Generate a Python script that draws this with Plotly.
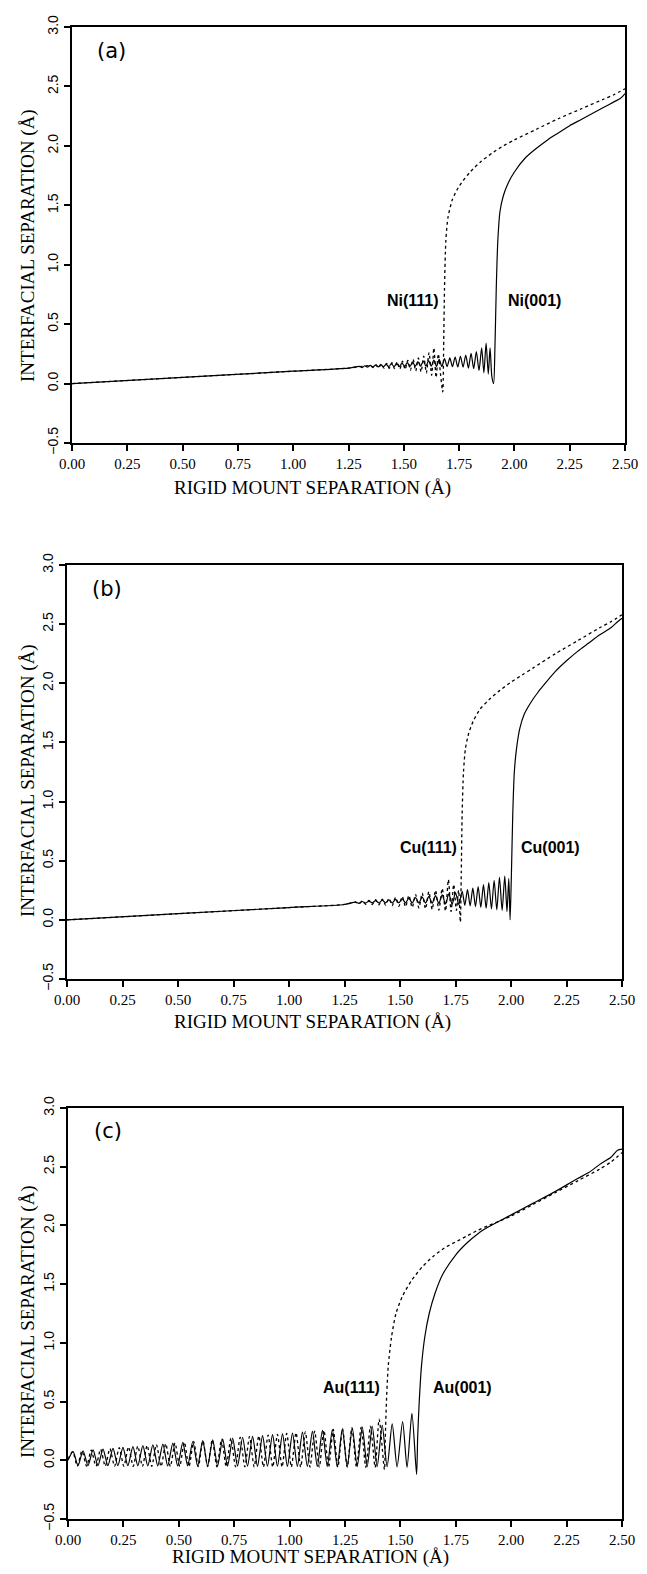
import plotly.graph_objects as go

# axis ticks
x_ticks = [0.0, 0.25, 0.5, 0.75, 1.0, 1.25, 1.5, 1.75, 2.0, 2.25, 2.5]
y_ticks = [-0.5, 0.0, 0.5, 1.0, 1.5, 2.0, 2.5, 3.0]

# (a) Ni, solid = (001), dotted = (111)
ni001_x = [0.000, 0.500, 1.000, 1.250, 1.300, 1.312, 1.324, 1.336, 1.348, 1.360,
           1.372, 1.384, 1.396, 1.408, 1.420, 1.432, 1.444, 1.456, 1.468, 1.480,
           1.492, 1.504, 1.516, 1.528, 1.540, 1.552, 1.564, 1.576, 1.588, 1.600,
           1.612, 1.624, 1.636, 1.648, 1.660, 1.672, 1.684, 1.696, 1.708, 1.720,
           1.732, 1.744, 1.756, 1.768, 1.780, 1.792, 1.804, 1.816, 1.828, 1.840,
           1.852, 1.862, 1.872, 1.882, 1.890, 1.898, 1.906, 1.912, 1.918, 1.925,
           1.935, 1.950, 1.970, 2.000, 2.050, 2.100, 2.150, 2.200, 2.250, 2.300,
           2.350, 2.400, 2.450, 2.480, 2.500]
ni001_y = [0.000, 0.052, 0.104, 0.130, 0.145, 0.135, 0.150, 0.138, 0.153, 0.139,
           0.156, 0.140, 0.159, 0.141, 0.162, 0.142, 0.166, 0.142, 0.170, 0.143,
           0.173, 0.144, 0.177, 0.145, 0.181, 0.146, 0.185, 0.146, 0.190, 0.146,
           0.194, 0.146, 0.198, 0.145, 0.203, 0.144, 0.210, 0.143, 0.216, 0.142,
           0.222, 0.140, 0.230, 0.138, 0.240, 0.130, 0.255, 0.125, 0.270, 0.110,
           0.300, 0.090, 0.340, 0.080, 0.300, 0.060, 0.000, 0.300, 0.800, 1.200,
           1.450, 1.580, 1.680, 1.780, 1.900, 1.980, 2.050, 2.110, 2.170, 2.220,
           2.270, 2.320, 2.370, 2.400, 2.440]
ni111_x = [0.000, 0.500, 1.000, 1.250, 1.350, 1.362, 1.374, 1.386, 1.398, 1.410,
           1.422, 1.434, 1.446, 1.458, 1.470, 1.482, 1.494, 1.506, 1.518, 1.530,
           1.542, 1.554, 1.566, 1.578, 1.590, 1.602, 1.614, 1.626, 1.636, 1.646,
           1.656, 1.666, 1.676, 1.680, 1.684, 1.690, 1.700, 1.720, 1.750, 1.800,
           1.850, 1.900, 1.950, 2.000, 2.100, 2.200, 2.300, 2.400, 2.450, 2.500]
ni111_y = [0.000, 0.052, 0.104, 0.130, 0.150, 0.135, 0.160, 0.132, 0.165, 0.130,
           0.170, 0.128, 0.175, 0.125, 0.182, 0.122, 0.188, 0.118, 0.195, 0.112,
           0.205, 0.105, 0.215, 0.098, 0.230, 0.090, 0.260, 0.070, 0.300, 0.050,
           0.250, 0.080, -0.070, 0.300, 0.800, 1.200, 1.400, 1.550, 1.660, 1.780,
           1.870, 1.940, 2.000, 2.050, 2.140, 2.230, 2.310, 2.390, 2.430, 2.480]

# (b) Cu
cu001_x = [0.000, 0.500, 1.000, 1.250, 1.300, 1.315, 1.330, 1.345, 1.360, 1.375,
           1.390, 1.405, 1.420, 1.435, 1.450, 1.465, 1.480, 1.495, 1.510, 1.525,
           1.540, 1.555, 1.570, 1.585, 1.600, 1.615, 1.630, 1.645, 1.660, 1.675,
           1.690, 1.705, 1.720, 1.735, 1.750, 1.765, 1.780, 1.792, 1.804, 1.816,
           1.828, 1.840, 1.852, 1.864, 1.876, 1.888, 1.900, 1.912, 1.924, 1.936,
           1.948, 1.960, 1.972, 1.982, 1.990, 1.996, 2.002, 2.008, 2.015, 2.025,
           2.040, 2.060, 2.090, 2.120, 2.150, 2.200, 2.250, 2.300, 2.350, 2.400,
           2.450, 2.480, 2.500]
cu001_y = [0.000, 0.052, 0.104, 0.130, 0.150, 0.140, 0.155, 0.142, 0.158, 0.143,
           0.162, 0.143, 0.166, 0.144, 0.170, 0.144, 0.174, 0.144, 0.178, 0.143,
           0.183, 0.143, 0.188, 0.142, 0.193, 0.141, 0.198, 0.140, 0.205, 0.138,
           0.212, 0.135, 0.220, 0.132, 0.230, 0.128, 0.242, 0.123, 0.255, 0.118,
           0.268, 0.112, 0.282, 0.105, 0.298, 0.098, 0.315, 0.092, 0.335, 0.085,
           0.360, 0.080, 0.370, 0.070, 0.350, 0.000, 0.400, 0.900, 1.250, 1.450,
           1.620, 1.740, 1.840, 1.920, 1.990, 2.100, 2.190, 2.270, 2.340, 2.410,
           2.470, 2.520, 2.550]
cu111_x = [0.000, 0.500, 1.000, 1.250, 1.300, 1.315, 1.330, 1.345, 1.360, 1.375,
           1.390, 1.405, 1.420, 1.435, 1.450, 1.465, 1.480, 1.495, 1.510, 1.525,
           1.540, 1.555, 1.570, 1.585, 1.600, 1.615, 1.630, 1.645, 1.660, 1.675,
           1.690, 1.705, 1.718, 1.730, 1.742, 1.754, 1.764, 1.772, 1.776, 1.780,
           1.786, 1.795, 1.810, 1.830, 1.860, 1.900, 1.950, 2.000, 2.050, 2.100,
           2.200, 2.300, 2.400, 2.450, 2.500]
cu111_y = [0.000, 0.052, 0.104, 0.130, 0.150, 0.135, 0.160, 0.132, 0.165, 0.130,
           0.170, 0.127, 0.176, 0.124, 0.182, 0.120, 0.190, 0.115, 0.198, 0.110,
           0.207, 0.105, 0.216, 0.100, 0.226, 0.094, 0.238, 0.088, 0.250, 0.082,
           0.265, 0.075, 0.340, 0.070, 0.300, 0.080, 0.250, -0.020, 0.400, 0.900,
           1.250, 1.450, 1.580, 1.680, 1.780, 1.860, 1.940, 2.010, 2.070, 2.130,
           2.250, 2.360, 2.470, 2.520, 2.580]

# (c) Au
au001_x = [0.000, 0.023, 0.045, 0.068, 0.090, 0.113, 0.135, 0.158, 0.180, 0.203,
           0.225, 0.248, 0.270, 0.293, 0.315, 0.338, 0.360, 0.383, 0.405, 0.428,
           0.450, 0.473, 0.495, 0.518, 0.540, 0.563, 0.585, 0.608, 0.630, 0.653,
           0.675, 0.698, 0.720, 0.743, 0.765, 0.788, 0.810, 0.833, 0.855, 0.878,
           0.900, 0.923, 0.945, 0.968, 0.990, 1.013, 1.035, 1.058, 1.080, 1.103,
           1.125, 1.148, 1.170, 1.193, 1.215, 1.238, 1.260, 1.283, 1.305, 1.328,
           1.350, 1.373, 1.395, 1.418, 1.440, 1.463, 1.485, 1.510, 1.530, 1.552,
           1.573, 1.578, 1.585, 1.595, 1.610, 1.630, 1.656, 1.690, 1.750, 1.800,
           1.850, 1.900, 1.950, 2.000, 2.100, 2.200, 2.300, 2.350, 2.400, 2.450,
           2.480, 2.500]
au001_y = [0.000, 0.074, -0.045, 0.081, -0.045, 0.088, -0.045, 0.095, -0.046, 0.102,
           -0.046, 0.110, -0.046, 0.117, -0.047, 0.124, -0.047, 0.131, -0.047, 0.138,
           -0.048, 0.146, -0.048, 0.153, -0.048, 0.160, -0.049, 0.167, -0.049, 0.174,
           -0.049, 0.182, -0.050, 0.189, -0.050, 0.196, -0.050, 0.203, -0.051, 0.210,
           -0.051, 0.218, -0.051, 0.225, -0.052, 0.232, -0.052, 0.239, -0.052, 0.246,
           -0.053, 0.254, -0.053, 0.261, -0.053, 0.268, -0.054, 0.275, -0.054, 0.282,
           -0.054, 0.290, -0.055, 0.297, -0.055, 0.310, -0.056, 0.330, -0.060, 0.400,
           -0.120, 0.200, 0.500, 0.800, 1.050, 1.250, 1.420, 1.580, 1.750, 1.850,
           1.930, 1.990, 2.040, 2.090, 2.190, 2.290, 2.400, 2.450, 2.520, 2.580,
           2.640, 2.650]
au111_x = [0.000, 0.021, 0.042, 0.063, 0.084, 0.105, 0.126, 0.147, 0.168, 0.189,
           0.210, 0.231, 0.252, 0.273, 0.294, 0.315, 0.336, 0.357, 0.378, 0.399,
           0.420, 0.441, 0.462, 0.483, 0.504, 0.525, 0.546, 0.567, 0.588, 0.609,
           0.630, 0.651, 0.672, 0.693, 0.714, 0.735, 0.756, 0.777, 0.798, 0.819,
           0.840, 0.861, 0.882, 0.903, 0.924, 0.945, 0.966, 0.987, 1.008, 1.029,
           1.050, 1.071, 1.092, 1.113, 1.134, 1.155, 1.176, 1.197, 1.218, 1.239,
           1.260, 1.281, 1.302, 1.323, 1.344, 1.365, 1.386, 1.404, 1.428, 1.432,
           1.437, 1.445, 1.460, 1.480, 1.510, 1.550, 1.600, 1.650, 1.700, 1.750,
           1.800, 1.850, 1.900, 1.950, 2.000, 2.100, 2.200, 2.300, 2.400, 2.450,
           2.500]
au111_y = [0.010, 0.073, -0.050, 0.080, -0.050, 0.087, -0.050, 0.094, -0.051, 0.100,
           -0.051, 0.107, -0.051, 0.114, -0.052, 0.120, -0.052, 0.127, -0.052, 0.134,
           -0.053, 0.141, -0.053, 0.147, -0.053, 0.154, -0.054, 0.161, -0.054, 0.167,
           -0.054, 0.174, -0.055, 0.181, -0.055, 0.188, -0.055, 0.194, -0.056, 0.201,
           -0.056, 0.208, -0.056, 0.214, -0.057, 0.221, -0.057, 0.228, -0.057, 0.235,
           -0.058, 0.241, -0.058, 0.248, -0.058, 0.255, -0.059, 0.262, -0.059, 0.268,
           -0.059, 0.275, -0.060, 0.282, -0.060, 0.290, -0.060, 0.350, -0.080, 0.200,
           0.500, 0.800, 1.050, 1.250, 1.400, 1.530, 1.650, 1.740, 1.810, 1.860,
           1.910, 1.960, 2.000, 2.040, 2.080, 2.180, 2.280, 2.380, 2.480, 2.540,
           2.620]

W, H = 647, 1574

# pixel boxes of the three frames: (left, right, top, bottom)
boxes = [(72, 625, 27, 443), (67, 622, 565, 979), (68, 622, 1108, 1519)]
# axis title centres in pixels: (x title x, x title y, y title x, y title y)
title_pos = [(312, 488, 28, 246), (312, 1022, 28, 781), (310, 1557, 28, 1322)]

panels = [
    ("(a)", ni001_x, ni001_y, ni111_x, ni111_y,
     [("Ni(111)", 1.54, 0.70), ("Ni(001)", 2.09, 0.70)]),
    ("(b)", cu001_x, cu001_y, cu111_x, cu111_y,
     [("Cu(111)", 1.63, 0.61), ("Cu(001)", 2.18, 0.61)]),
    ("(c)", au001_x, au001_y, au111_x, au111_y,
     [("Au(111)", 1.28, 0.62), ("Au(001)", 1.78, 0.62)]),
]

fig = go.Figure()
annotations = []
layout_axes = {}
title_font = dict(family="Liberation Serif", size=19, color="black")

for i, (label, sx, sy, dx, dy, notes) in enumerate(panels):
    n = "" if i == 0 else str(i + 1)
    xa, ya = "x" + n, "y" + n
    l, r, t, b = boxes[i]

    fig.add_trace(go.Scatter(x=sx, y=sy, xaxis=xa, yaxis=ya, mode="lines",
                             line=dict(color="black", width=1.2, shape="spline", smoothing=0.7)))
    fig.add_trace(go.Scatter(x=dx, y=dy, xaxis=xa, yaxis=ya, mode="lines",
                             line=dict(color="black", width=1.3, dash="dot",
                                       shape="spline", smoothing=0.7)))

    layout_axes["xaxis" + n] = dict(
        domain=[l / W, r / W], anchor=ya, range=[0, 2.5],
        tickvals=x_ticks, ticktext=["%.2f" % v for v in x_ticks],
        ticks="outside", ticklen=6, tickwidth=1.5, tickcolor="black",
        showline=True, linewidth=2, linecolor="black", mirror=True,
        showgrid=False, zeroline=False, automargin=False,
        tickfont=dict(family="Liberation Serif", size=15, color="black"),
    )
    layout_axes["yaxis" + n] = dict(
        domain=[1 - b / H, 1 - t / H], anchor=xa, range=[-0.5, 3.0],
        tickvals=y_ticks, ticktext=["%.1f" % v if v >= 0 else "\u2212%.1f" % -v for v in y_ticks],
        tickangle=-90, ticks="outside", ticklen=6, tickwidth=1.5, tickcolor="black",
        showline=True, linewidth=2, linecolor="black", mirror=True,
        showgrid=False, zeroline=False, automargin=False,
        tickfont=dict(family="Liberation Sans", size=14, color="black"),
    )

    tx, ty, yx, yy = title_pos[i]
    annotations.append(dict(x=tx / W, y=1 - ty / H, xref="paper", yref="paper",
                            text="RIGID MOUNT SEPARATION (Å)", showarrow=False,
                            xanchor="center", yanchor="middle", font=title_font))
    annotations.append(dict(x=yx / W, y=1 - yy / H, xref="paper", yref="paper",
                            text="INTERFACIAL SEPARATION (Å)", showarrow=False,
                            textangle=-90, xanchor="center", yanchor="middle",
                            font=title_font))
    annotations.append(dict(x=0.18, y=2.8, xref=xa, yref=ya, text=label,
                            showarrow=False,
                            font=dict(family="DejaVu Sans", size=21, color="black")))
    for txt, ax, ay in notes:
        annotations.append(dict(x=ax, y=ay, xref=xa, yref=ya, text="<b>" + txt + "</b>",
                                showarrow=False,
                                font=dict(family="Liberation Sans", size=16, color="black")))

fig.update_layout(
    width=W, height=H,
    margin=dict(l=0, r=0, t=0, b=0),
    paper_bgcolor="white", plot_bgcolor="white",
    showlegend=False,
    annotations=annotations,
    **layout_axes,
)

fig.write_html("out.html", config={"displayModeBar": False},
               post_script="document.body.style.margin='0';document.body.style.overflow='hidden';")
